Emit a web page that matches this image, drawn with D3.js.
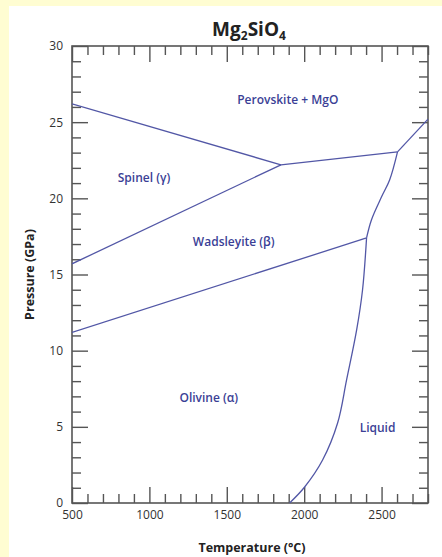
<!DOCTYPE html>
<html>
<head>
<meta charset="utf-8">
<script src="https://cdn.jsdelivr.net/npm/d3@7"></script>
<style>
  html, body { margin: 0; padding: 0; background: #fffdd2; }
  svg { display: block; }
</style>
</head>
<body>
<svg id="chart" width="442" height="557"></svg>
<script>
// Phase boundaries of Mg2SiO4: temperature (°C) vs pressure (GPa)
const spinelPerovskiteT = [500, 1850];
const spinelPerovskiteP = [26.2, 22.2];

const spinelWadsleyiteT = [500, 1850];
const spinelWadsleyiteP = [15.7, 22.2];

const wadsleyitePerovskiteT = [1850, 2603];
const wadsleyitePerovskiteP = [22.2, 23.05];

const olivineWadsleyiteT = [500, 2403];
const olivineWadsleyiteP = [11.2, 17.4];

// melting curve, below and above the olivine–wadsleyite–liquid point
const meltingLowT = [1906, 2003, 2119, 2216, 2274, 2339, 2377, 2403];
const meltingLowP = [0, 1.05, 2.82, 5.25, 8.08, 11.36, 13.98, 17.4];
const meltingHighT = [2403, 2435, 2500, 2552, 2603];
const meltingHighP = [17.4, 18.6, 20.1, 21.2, 23.05];

const perovskiteLiquidT = [2603, 2800];
const perovskiteLiquidP = [23.05, 25.2];

// Field names, anchored in temperature/pressure units
const fieldNames = ["Perovskite + MgO", "Spinel (\u03b3)", "Wadsleyite (\u03b2)", "Olivine (\u03b1)", "Liquid"];
const fieldT = [1894, 965, 1545, 1384, 2474];
const fieldP = [26.2, 21.1, 16.9, 6.6, 4.65];

// Axis ticks
const tempTicks = [500, 1000, 1500, 2000, 2500];
const pressureTicks = [0, 5, 10, 15, 20, 25, 30];
const tempMinorStep = 100;
const pressureMinorStep = 1;

const svg = d3.select("#chart");
const W = 442, H = 557;
const frame = { left: 72, right: 428, top: 46, bottom: 503 };
const font = "'Open Sans', 'DejaVu Sans', sans-serif";

// white panel
svg.append("rect").attr("x", 9).attr("y", 6).attr("width", W - 9).attr("height", H - 6).attr("fill", "#ffffff");

const x = d3.scaleLinear().domain([500, 2800]).range([frame.left, frame.right]);
const y = d3.scaleLinear().domain([0, 30]).range([frame.bottom, frame.top]);

const minorT = d3.range(500, 2800 + 1, tempMinorStep).filter(v => v % 500 !== 0);
const minorP = d3.range(0, 30 + 0.001, pressureMinorStep).filter(v => v % 5 !== 0);

const axisColor = "#555555";
const minorLen = 9, majorLen = 16;

function styleAxis(g) {
  g.select(".domain").remove();
  g.selectAll(".tick line").attr("stroke", axisColor).attr("stroke-width", 1.4);
  g.selectAll(".tick text")
    .attr("fill", "#333333")
    .style("font-family", font)
    .style("font-size", "12px");
}

// bottom axis: ticks pointing inward
svg.append("g").attr("transform", `translate(0,${frame.bottom})`)
  .call(d3.axisBottom(x).tickValues(minorT).tickSizeInner(-minorLen).tickSizeOuter(0).tickFormat(""))
  .call(styleAxis);
svg.append("g").attr("transform", `translate(0,${frame.bottom})`)
  .call(d3.axisBottom(x).tickValues(tempTicks).tickSizeInner(-majorLen).tickSizeOuter(0).tickPadding(7).tickFormat(d3.format("d")))
  .call(styleAxis);

// top axis
svg.append("g").attr("transform", `translate(0,${frame.top})`)
  .call(d3.axisTop(x).tickValues(minorT).tickSizeInner(-minorLen).tickSizeOuter(0).tickFormat(""))
  .call(styleAxis);
svg.append("g").attr("transform", `translate(0,${frame.top})`)
  .call(d3.axisTop(x).tickValues(tempTicks).tickSizeInner(-majorLen).tickSizeOuter(0).tickFormat(""))
  .call(styleAxis);

// left axis
svg.append("g").attr("transform", `translate(${frame.left},0)`)
  .call(d3.axisLeft(y).tickValues(minorP).tickSizeInner(-minorLen).tickSizeOuter(0).tickFormat(""))
  .call(styleAxis);
svg.append("g").attr("transform", `translate(${frame.left},0)`)
  .call(d3.axisLeft(y).tickValues(pressureTicks).tickSizeInner(-majorLen).tickSizeOuter(0).tickPadding(9).tickFormat(d3.format("d")))
  .call(styleAxis);

// right axis
svg.append("g").attr("transform", `translate(${frame.right},0)`)
  .call(d3.axisRight(y).tickValues(minorP).tickSizeInner(-minorLen).tickSizeOuter(0).tickFormat(""))
  .call(styleAxis);
svg.append("g").attr("transform", `translate(${frame.right},0)`)
  .call(d3.axisRight(y).tickValues(pressureTicks).tickSizeInner(-majorLen).tickSizeOuter(0).tickFormat(""))
  .call(styleAxis);

// frame
svg.append("rect")
  .attr("x", frame.left).attr("y", frame.top)
  .attr("width", frame.right - frame.left).attr("height", frame.bottom - frame.top)
  .attr("fill", "none").attr("stroke", axisColor).attr("stroke-width", 1.6);

// phase boundaries
const lineColor = "#5257a6";
svg.append("clipPath").attr("id", "plotclip").append("rect")
  .attr("x", frame.left).attr("y", frame.top)
  .attr("width", frame.right - frame.left).attr("height", frame.bottom - frame.top);

const boundaries = [
  { T: spinelPerovskiteT, P: spinelPerovskiteP, curve: d3.curveLinear },
  { T: spinelWadsleyiteT, P: spinelWadsleyiteP, curve: d3.curveLinear },
  { T: wadsleyitePerovskiteT, P: wadsleyitePerovskiteP, curve: d3.curveLinear },
  { T: olivineWadsleyiteT, P: olivineWadsleyiteP, curve: d3.curveLinear },
  { T: meltingLowT, P: meltingLowP, curve: d3.curveCatmullRom.alpha(0.5) },
  { T: meltingHighT, P: meltingHighP, curve: d3.curveCatmullRom.alpha(0.5) },
  { T: perovskiteLiquidT, P: perovskiteLiquidP, curve: d3.curveLinear }
];

const plot = svg.append("g").attr("clip-path", "url(#plotclip)");
boundaries.forEach(b => {
  const pts = b.T.map((t, i) => [t, b.P[i]]);
  const line = d3.line().x(d => x(d[0])).y(d => y(d[1])).curve(b.curve);
  plot.append("path").attr("d", line(pts))
    .attr("fill", "none").attr("stroke", lineColor).attr("stroke-width", 1.3)
    .attr("stroke-linejoin", "round");
});

// field names
svg.append("g").selectAll("text").data(fieldNames).join("text")
  .attr("x", (d, i) => x(fieldT[i]))
  .attr("y", (d, i) => y(fieldP[i]))
  .attr("text-anchor", "middle")
  .attr("fill", "#3b3f96")
  .style("font-family", font)
  .style("font-size", "12px")
  .style("font-weight", "600")
  .text(d => d);

// title with subscripts
const title = svg.append("text")
  .attr("x", 249).attr("y", 36)
  .attr("text-anchor", "middle")
  .attr("fill", "#222222")
  .style("font-family", font)
  .style("font-size", "19px")
  .style("font-weight", "700");
title.append("tspan").text("Mg");
title.append("tspan").text("2").attr("dy", 4).style("font-size", "12px");
title.append("tspan").text("SiO").attr("dy", -4);
title.append("tspan").text("4").attr("dy", 4).style("font-size", "12px");

// axis titles
svg.append("text")
  .attr("x", (frame.left + frame.right) / 2 + 2).attr("y", 552)
  .attr("text-anchor", "middle")
  .attr("fill", "#222222")
  .style("font-family", font)
  .style("font-size", "12.5px")
  .style("font-weight", "700")
  .text("Temperature (\u00b0C)");

svg.append("text")
  .attr("transform", `translate(34,${(frame.top + frame.bottom) / 2}) rotate(-90)`)
  .attr("text-anchor", "middle")
  .attr("fill", "#222222")
  .style("font-family", font)
  .style("font-size", "12.5px")
  .style("font-weight", "700")
  .text("Pressure (GPa)");
</script>
</body>
</html>
